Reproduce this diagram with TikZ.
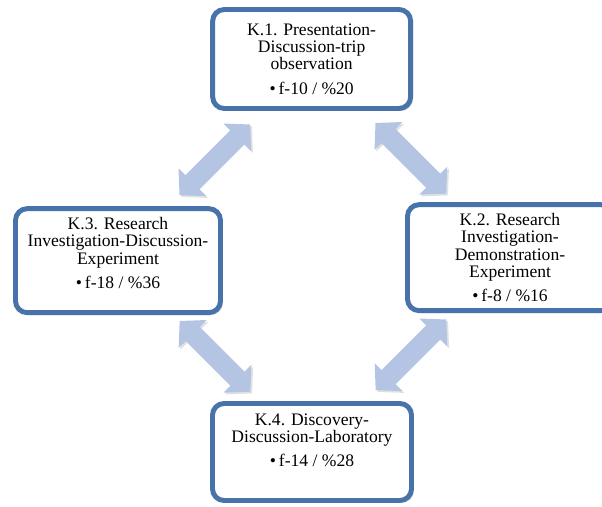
\documentclass[tikz,border=0pt]{standalone}
\usepackage{fontspec}
\setmainfont{Liberation Serif}
\usetikzlibrary{arrows.meta,shadows,calc}
\definecolor{boxblue}{RGB}{71,114,170}
\definecolor{arrowblue}{RGB}{180,197,227}
\begin{document}
\begin{tikzpicture}
	\tikzstyle{kbox}=[rectangle,draw=boxblue,line width=4.2pt,rounded corners=0.35cm,fill=white,align=center,font=\fontsize{15pt}{14.8pt}\selectfont,drop shadow={opacity=0.3,shadow xshift=2pt,shadow yshift=-2pt}]
	\tikzstyle{link}=[draw=arrowblue,line width=0.6cm,{Triangle[length=0.55cm,width=1.15cm]}-{Triangle[length=0.55cm,width=1.15cm]},preaction={draw=black!60,opacity=0.2,transform canvas={shift={(1.5pt,-1.5pt)}}}]
	\useasboundingbox (0,0) rectangle (18.06,-15.21);
	\clip (0,0) rectangle (18.06,-15.21);

	\node[kbox,minimum width=5.94cm,minimum height=2.97cm] (K1) at (9.35,-1.77) {K.1. Presentation-\\Discussion-trip\\observation\\[6pt]•\,f-10 / \%20};
	\node[kbox,minimum width=6.15cm,minimum height=3.18cm] (K2) at (15.3,-7.73) {K.2. Research\\Investigation-\\Demonstration-\\Experiment\\[6pt]•\,f-8 / \%16};
	\node[kbox,minimum width=6.15cm,minimum height=3.12cm,text depth=13pt] (K3) at (3.54,-7.82) {K.3. Research\\Investigation-Discussion-\\Experiment\\[6pt]•\,f-18 / \%36};
	\node[kbox,minimum width=5.97cm,minimum height=2.91cm,text depth=20pt] (K4) at (9.36,-13.56) {K.4. Discovery-\\Discussion-Laboratory\\[6pt]•\,f-14 / \%28};

	\coordinate (M13) at ($(K1)!0.5!(K3)$);
	\coordinate (M12) at ($(K1)!0.5!(K2)$);
	\coordinate (M34) at ($(K3)!0.5!(K4)$);
	\coordinate (M24) at ($(K2)!0.5!(K4)$);

	\draw[link] ($(M13)+(45:1.5)$) -- ($(M13)+(225:1.5)$);
	\draw[link] ($(M12)+(135:1.5)$) -- ($(M12)+(-45:1.5)$);
	\draw[link] ($(M34)+(135:1.5)$) -- ($(M34)+(-45:1.5)$);
	\draw[link] ($(M24)+(45:1.5)$) -- ($(M24)+(225:1.5)$);
\end{tikzpicture}
\end{document}
